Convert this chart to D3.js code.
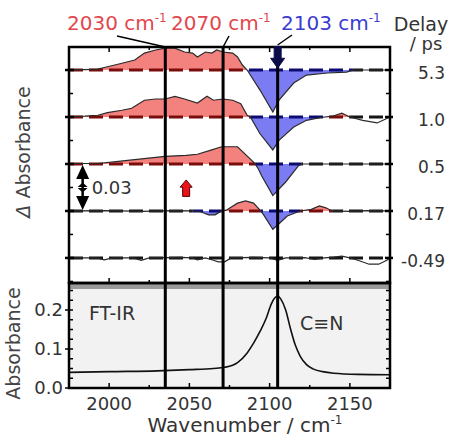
<!DOCTYPE html>
<html><head><meta charset="utf-8">
<script src="https://cdn.jsdelivr.net/npm/d3@7"></script>
<style>body{margin:0;background:#fff}svg{display:block}text{font-family:'DejaVu Sans',sans-serif}</style>
</head><body><svg id="c" width="453" height="437"></svg>
<script>
// ---------- data ----------
const delays = ["5.3", "1.0", "0.5", "0.17", "-0.49"];
const offsets = [0.12, 0.09, 0.06, 0.03, 0.0];
// transient difference spectra (mOD) per delay
const wn_5_3 = [1975,1985,1993,1999,2008,2016,2022,2029,2035,2041,2047,2052,2055,2060,2064,2067,2071,2077,2080,2083,2086,2094,2102,2106,2115,2123,2136,2148,2152,2175];
const dA_5_3 = [0.3,0.3,0.6,2.1,4.3,6.4,10.8,12.8,14,14,11.5,10.8,8.3,11.5,10.8,12.8,11.5,10.8,8.3,3.2,0,-12.8,-26.8,-19,-8.3,-3.2,-1.9,-1.3,0,0];
const wn_1_0 = [1975,1985,1993,1999,2008,2014,2022,2029,2035,2041,2047,2055,2061,2065,2071,2077,2082,2086,2088,2094,2102,2106,2115,2123,2132,2139,2145,2150,2158,2167,2175];
const dA_1_0 = [0.3,0.5,1.1,2.8,4.3,5.6,10.7,11.5,11.5,13.2,11.5,8.9,13.2,10.7,11.5,10.7,8.5,1.1,0,-10.7,-21,-14.7,-6.4,-2.1,-0.3,0.5,2.5,0,-2.1,-3.8,0];
const wn_0_5 = [1975,1993,2010,2035,2048,2055,2064,2070,2080,2089,2091,2093,2095,2102,2110,2118,2120,2175];
const dA_0_5 = [0.3,0.3,2.1,4.9,5.5,6.2,9,11,11,2.1,0,-3.2,-7.5,-20.2,-11.5,-1.1,0,0];
const wn_0_17 = [1975,2000,2020,2040,2052,2057,2062,2066,2070,2073,2080,2085,2090,2094,2096,2102,2106,2111,2119,2126,2131,2135,2139,2150,2160,2175];
const dA_0_17 = [0,0.2,-0.2,0.2,0,-0.5,-2.5,-2.5,0,0.5,5,6.4,5,0.5,-2,-11.7,-8,-3.2,0,1,3.2,2,0,-0.2,0.2,0];
const wn_m0_49 = [1975,1992,1997,2002,2015,2020,2025,2045,2052,2055,2060,2065,2068,2072,2076,2090,2100,2105,2110,2122,2128,2134,2140,2145,2150,2155,2162,2168,2173,2175];
const dA_m0_49 = [0,0,-1.2,0,0,-1.5,0,0.3,0,-1.2,0,-1.5,-2.5,-2.5,0,0.3,0,-1.5,0,0.2,-1,0,0.5,1.2,0,-1.5,-4,-4,-1.5,0];
const traceWn = [wn_5_3, wn_1_0, wn_0_5, wn_0_17, wn_m0_49];
const traceDA = [dA_5_3, dA_1_0, dA_0_5, dA_0_17, dA_m0_49];
// wavenumber window in which each difference spectrum is colour-filled
const fillWindow = [[1975, 2150], [1975, 2150], [1975, 2150], [1975, 2150], null];
// FT-IR spectrum
const ftirWn = [1975,2000,2030,2050,2065,2072,2080,2086,2090,2094,2098,2101,2103,2105,2107,2110,2113,2116,2119,2123,2127,2133,2140,2155,2175];
const ftirAbs = [0.04,0.042,0.044,0.047,0.05,0.053,0.065,0.09,0.115,0.145,0.18,0.215,0.23,0.236,0.228,0.2,0.152,0.11,0.082,0.06,0.049,0.042,0.038,0.035,0.034];
// marker lines and labels
const markerWn = [2035, 2071, 2105];
const markerLabels = ["2030", "2070", "2103"];
const xTicks = [2000, 2050, 2100, 2150];
const yTicksFT = [0.0, 0.1, 0.2];

// ---------- layout ----------
const svg = d3.select("#c");
const L = 69, R = 390, T = 47, M = 283, B = 388;
const x = d3.scaleLinear().domain([1975, 2175]).range([L, R]);
const yT = d3.scaleLinear().domain([-0.016, 0.1347]).range([M, T]);
const yB = d3.scaleLinear().domain([0, 0.2667]).range([B, M + 1]);
const RED = "#f3817d", BLUE = "#7c7cf2";

const defs = svg.append("defs");

// bottom panel background
svg.append("rect").attr("x", L).attr("y", M).attr("width", R - L).attr("height", B - M).attr("fill", "#f2f2f2");
svg.append("rect").attr("x", L).attr("y", M + 1).attr("width", R - L).attr("height", 5).attr("fill", "#9a9a9a");

// sign segments for dashed baselines
function segments(w, v, win) {
  const segs = [];
  const sg = (a, xm) => (!win || xm < win[0] || xm > win[1]) ? 0 : (a > 0.25 ? 1 : (a < -0.25 ? -1 : 0));
  for (let i = 0; i < w.length - 1; i++) {
    const a = v[i], b = v[i + 1];
    if (a * b < 0) {
      const t = a / (a - b), xc = w[i] + t * (w[i + 1] - w[i]);
      segs.push({ x0: w[i], x1: xc, s: sg(a, (w[i] + xc) / 2) });
      segs.push({ x0: xc, x1: w[i + 1], s: sg(b, (xc + w[i + 1]) / 2) });
    } else {
      segs.push({ x0: w[i], x1: w[i + 1], s: sg(Math.abs(a) > Math.abs(b) ? a : b, (w[i] + w[i + 1]) / 2) });
    }
  }
  const m = [];
  segs.forEach(s => { const l = m[m.length - 1]; if (l && l.s === s.s) l.x1 = s.x1; else m.push({ ...s }); });
  return m;
}

traceWn.forEach((w, k) => {
  const off = offsets[k];
  const pts = w.map((wv, i) => [wv, traceDA[k][i] / 1000]);
  const by = yT(off);
  const win = fillWindow[k];
  if (win) {
    const cu = "cu" + k, cd = "cd" + k;
    defs.append("clipPath").attr("id", cu).append("rect").attr("x", x(win[0])).attr("y", T).attr("width", x(win[1]) - x(win[0])).attr("height", by - T);
    defs.append("clipPath").attr("id", cd).append("rect").attr("x", x(win[0])).attr("y", by).attr("width", x(win[1]) - x(win[0])).attr("height", M - by);
    const area = d3.area().x(d => x(d[0])).y0(by).y1(d => yT(off + d[1]));
    svg.append("path").attr("d", area(pts)).attr("fill", RED).attr("clip-path", `url(#${cu})`);
    svg.append("path").attr("d", area(pts)).attr("fill", BLUE).attr("clip-path", `url(#${cd})`);
  }
  // dashed baseline
  segments(w, traceDA[k], win).forEach(s => {
    const px0 = x(s.x0), px1 = x(s.x1);
    svg.append("line").attr("x1", px0).attr("x2", px1).attr("y1", by).attr("y2", by)
      .attr("stroke", s.s > 0 ? "#7a0c0c" : (s.s < 0 ? "#0c0c70" : "#151515"))
      .attr("stroke-width", 3).attr("stroke-dasharray", "14,6").attr("stroke-dashoffset", px0 - L);
  });
  const line = d3.line().x(d => x(d[0])).y(d => yT(off + d[1]));
  svg.append("path").attr("d", line(pts)).attr("fill", "none").attr("stroke", "#2a2a2a").attr("stroke-width", 1.2);
});

// FT-IR curve
svg.append("path").attr("d", d3.line().x(d => x(d)).y((d, i) => yB(ftirAbs[i])).curve(d3.curveMonotoneX)(ftirWn))
  .attr("fill", "none").attr("stroke", "#111").attr("stroke-width", 1.6);

// marker lines
markerWn.forEach(m => {
  svg.append("line").attr("x1", x(m)).attr("x2", x(m)).attr("y1", T).attr("y2", B).attr("stroke", "#000").attr("stroke-width", 3);
});

// ticks
const tk = (x1, y1, x2, y2, w) => svg.append("line").attr("x1", x1).attr("y1", y1).attr("x2", x2).attr("y2", y2).attr("stroke", "#000").attr("stroke-width", w || 1.5);
d3.range(-0.015, 0.1351, 0.015).forEach(v => {
  const yy = yT(v), major = Math.abs(Math.round(v / 0.03) * 0.03 - v) < 1e-6;
  if (yy < T + 1 || yy > M - 1) return;
  tk(major ? L - 4 : L, yy, L + (major ? 5 : 4), yy, major ? 2.5 : 1.5);
  tk(R - (major ? 5 : 4), yy, major ? R + 3 : R, yy, major ? 2.5 : 1.5);
});
d3.range(2000, 2175, 25).forEach(v => {
  const len = v % 50 === 0 ? 5 : 3;
  tk(x(v), T, x(v), T + len);
  tk(x(v), M, x(v), M - len);
  tk(x(v), B, x(v), B - len);
});
d3.range(0, 0.266, 0.025).forEach(v => {
  const major = Math.abs(v * 10 - Math.round(v * 10)) < 1e-6;
  tk(major ? L - 4 : L, yB(v), L + 4, yB(v));
  tk(R - 4, yB(v), R, yB(v));
});

// frames
svg.append("rect").attr("x", L).attr("y", T).attr("width", R - L).attr("height", M - T).attr("fill", "none").attr("stroke", "#000").attr("stroke-width", 2.5);
svg.append("rect").attr("x", L).attr("y", M).attr("width", R - L).attr("height", B - M).attr("fill", "none").attr("stroke", "#000").attr("stroke-width", 2.5);

// ---------- annotations ----------
// navy arrow at 2103 marker
const ax = x(markerWn[2]);
const navy = d3.path();
navy.moveTo(ax - 3.5, yT(0.12 + 0.0150)); navy.lineTo(ax + 3.5, yT(0.12 + 0.0150)); navy.lineTo(ax + 3.5, yT(0.12 + 0.0075));
navy.lineTo(ax + 7, yT(0.12 + 0.0075)); navy.lineTo(ax, yT(0.12 + 0.0012)); navy.lineTo(ax - 7, yT(0.12 + 0.0075));
navy.lineTo(ax - 3.5, yT(0.12 + 0.0075)); navy.closePath();
svg.append("path").attr("d", navy.toString()).attr("fill", "#0b0b4a").attr("stroke", "#0b0b4a").attr("stroke-width", 1);

// red up arrow
const rx = x(2048);
const ra = d3.path();
ra.moveTo(rx, yT(0.03 + 0.0198)); ra.lineTo(rx + 6, yT(0.03 + 0.0152)); ra.lineTo(rx + 3.5, yT(0.03 + 0.0152));
ra.lineTo(rx + 3.5, yT(0.03 + 0.0093)); ra.lineTo(rx - 3.5, yT(0.03 + 0.0093)); ra.lineTo(rx - 3.5, yT(0.03 + 0.0152));
ra.lineTo(rx - 6, yT(0.03 + 0.0152)); ra.closePath();
svg.append("path").attr("d", ra.toString()).attr("fill", "#e8141a").attr("stroke", "#5a0000").attr("stroke-width", 1);

// 0.03 scale bar
const sx = x(1983.5), sTop = yT(0.06) + 1, sBot = yT(0.03) - 1, sMid = (sTop + sBot) / 2;
svg.append("line").attr("x1", sx).attr("x2", sx).attr("y1", sTop + 4).attr("y2", sBot - 4).attr("stroke", "#000").attr("stroke-width", 2.5);
const tri = (cx, tipY, baseY, hw) => `M${cx},${tipY}L${cx + hw},${baseY}L${cx - hw},${baseY}Z`;
svg.append("path").attr("d", tri(sx, sTop, sTop + 14, 6.5)).attr("fill", "#000");
svg.append("path").attr("d", tri(sx, sBot, sBot - 14, 6.5)).attr("fill", "#000");
svg.append("path").attr("d", tri(sx, sMid - 5, sMid - 0.5, 5)).attr("fill", "#000");
svg.append("path").attr("d", tri(sx, sMid + 5, sMid + 0.5, 5)).attr("fill", "#000");
svg.append("text").attr("x", sx + 9).attr("y", sMid).attr("dy", "0.36em").attr("font-size", 18).attr("fill", "#333").text("0.03");

// top labels with leader lines
const labelX = [67, 171, 281];
const labelCol = ["#e2474d", "#e2474d", "#3b3bd2"];
markerLabels.forEach((s, i) => {
  const t = svg.append("text").attr("x", labelX[i]).attr("y", 30).attr("font-size", 20).attr("fill", labelCol[i]);
  t.append("tspan").text(s + " cm");
  t.append("tspan").attr("font-size", 12).attr("dy", -8).text("-1");
});
const leadFrom = [[117, 36], [229, 36], [292, 35]];
const leadTo = [T, T, T - 2];
markerWn.forEach((m, i) => {
  svg.append("line").attr("x1", leadFrom[i][0]).attr("y1", leadFrom[i][1]).attr("x2", x(m)).attr("y2", leadTo[i])
    .attr("stroke", "#000").attr("stroke-width", 1.5);
});

// delay labels
svg.append("text").attr("x", 421).attr("y", 31).attr("text-anchor", "middle").attr("font-size", 19).attr("fill", "#333").text("Delay");
svg.append("text").attr("x", 426).attr("y", 50).attr("text-anchor", "middle").attr("font-size", 18).attr("fill", "#333").text("/ ps");
delays.forEach((d, i) => {
  svg.append("text").attr("x", 445).attr("y", yT(offsets[i]) + 3).attr("dy", "0.36em").attr("text-anchor", "end")
    .attr("font-size", 17).attr("fill", "#333").text(d);
});

// axis titles
const la = svg.append("text").attr("transform", `translate(30,152) rotate(-90)`).attr("text-anchor", "middle").attr("font-size", 19).attr("fill", "#444");
la.append("tspan").attr("font-style", "italic").text("Δ");
la.append("tspan").text(" Absorbance");
svg.append("text").attr("transform", `translate(20,${(M + B) / 2 + 8}) rotate(-90)`).attr("text-anchor", "middle").attr("font-size", 19).attr("fill", "#444").text("Absorbance");
yTicksFT.forEach(v => {
  svg.append("text").attr("x", 63).attr("y", yB(v)).attr("dy", "0.36em").attr("text-anchor", "end").attr("font-size", 18).attr("fill", "#333").text(v.toFixed(1));
});
xTicks.forEach(v => {
  svg.append("text").attr("x", x(v)).attr("y", 404).attr("dy", "0.36em").attr("text-anchor", "middle").attr("font-size", 18).attr("fill", "#333").text(v);
});
const xt = svg.append("text").attr("x", 245).attr("y", 432).attr("text-anchor", "middle").attr("font-size", 20).attr("fill", "#333");
xt.append("tspan").text("Wavenumber / cm");
xt.append("tspan").attr("font-size", 12).attr("dy", -8).text("-1");

svg.append("text").attr("x", 89).attr("y", 313).attr("dy", "0.36em").attr("font-size", 19).attr("fill", "#333").text("FT-IR");
svg.append("text").attr("x", 300).attr("y", 323).attr("dy", "0.36em").attr("font-size", 19).attr("fill", "#333").text("C≡N");
</script></body></html>
